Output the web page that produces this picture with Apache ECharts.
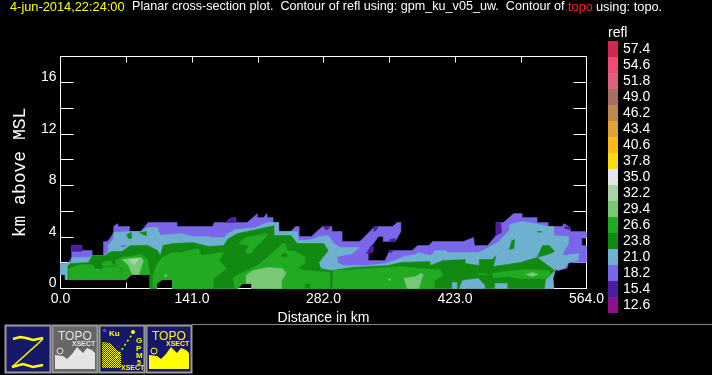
<!DOCTYPE html>
<html><head><meta charset="utf-8">
<style>html,body{margin:0;padding:0;background:#000}#c{width:712px;height:375px}</style>
<script src="https://cdn.jsdelivr.net/npm/echarts@6/dist/echarts.min.js"></script>
</head><body><div id="c"></div>
<script>
// Contour levels (dBZ) top to bottom, with the colour bar swatches
const levels = ['57.4','54.6','51.8','49.0','46.2','43.4','40.6','37.8','35.0','32.2','29.4','26.6','23.8','21.0','18.2','15.4','12.6'];
const levelColors = ['#d0284f','#f24a78','#dd6080','#a5705f','#bd8849','#e0a234','#fdb81c','#fbdc0c','#e6e6e6','#a8d4a8','#78c878','#22aa22','#128a12','#6eb0d0','#7b65e8','#4b1f9f','#8f108f'];

// Data lower edge shared by the outer bands: [km, km above MSL] flat pairs
const lowerEdge = [529,0, 205,0, 205,.39, 195,.39, 190,0, 120,0, 120,.70, 109,.70, 103,.39, 103,0, 96,0, 96,1.09, 76,1.09, 70,.70];
const leftEdge = [5,.70, 5,1.09, 0,1.09];

const top182 = [0,1.94,8,1.94,12,2.41,12,3.34,23,3.34,23,2.95,34,2.95,34,2.56,46,2.56,46,3.34,46,3.65,50,3.65,53,3.88,57,4.35,57,4.81,61,5.04,62,4.81,74,4.81,74,4.42,86,4.42,94,5.12,125,5.12,125,4.81,163,4.81,165,5.12,177,5.12,182,5.43,188,5.51,188,5.12,200,5.12,209,5.66,211,5.82,211,5.51,218,5.51,221,5.82,222,5.51,228,5.51,228,5.12,234,5.12,234,4.42,247,4.42,252,4.81,256,4.81,256,4.03,269,4.03,276,4.50,281,4.81,291,4.81,291,4.42,302,4.42,302,3.65,321,3.65,337,4.81,356,4.81,361,5.12,365,5.12,365,4.42,359,3.65,346,3.65,346,4.03,341,4.03,330,2.95,330,2.17,348,2.17,353,2.95,377,2.95,383,3.34,395,3.34,399,3.65,432,3.65,443,3.96,444,3.34,458,3.34,467,4.11,467,5.12,475,5.12,486,5.82,495,5.82,495,5.51,511,5.51,511,5.12,523,5.12,523,4.81,538,4.81,540,5.04,546,4.73,547,4.42,564,4.42,564,3.96,559,3.96,559,3.34,564,3.34,564,2.02,545,2.02,543,1.55,530,1.40,528,.78];
const top210 = [0,1.94,5,1.94,12,2.02,12,2.41,30,2.41,34,2.56,46,2.56,51,2.79,51,3.34,57,3.88,57,4.35,73,4.42,86,4.42,94,4.73,104,4.73,107,4.11,129,4.27,142,4.03,159,4.03,163,3.96,175,3.96,180,4.27,188,4.58,209,4.73,222,5.12,234,5.12,234,4.42,254,4.42,255,3.72,270,3.80,277,4.03,287,4.11,293,3.49,300,3.18,320,3.18,313,2.72,297,2.48,297,2.02,303,1.78,330,1.78,348,1.94,361,2.25,368,2.48,381,2.64,383,2.79,397,2.56,402,2.95,413,2.95,415,2.79,448,2.79,459,3.18,470,3.65,481,4.50,482,4.97,495,5.20,509,5.04,523,4.81,529,4.81,529,4.11,545,4.03,545,3.49,539,2.79,539,2.56,556,2.72,555,2.17,545,2.02,541,1.63,534,1.40,531,1.55,528,.78];
const top238 = [8,.70,8,1.78,11,1.94,30,2.02,34,2.56,48,2.56,54,2.87,66,2.87,75,3.34,94,3.34,104,2.95,107,2.56,110,3.34,121,3.49,142,3.57,159,3.26,175,3.34,180,3.88,190,4.27,200,4.42,225,4.81,229,4.89,229,4.11,247,4.11,254,3.49,282,3.49,287,2.95,277,2.02,279,1.55,290,1.40,313,1.63,351,1.78,365,2.02,396,2.10,397,1.78,410,2.17,434,2.25,434,1.94,449,1.78,449,2.25,463,2.25,467,2.56,464,1.71,493,2.02,511,2.41,530,1.40,520,.70,519,0];

const band182 = [top182.concat(lowerEdge, leftEdge)];
const band210 = [top210.concat(lowerEdge, leftEdge)];
const band238 = [
  top238.concat(lowerEdge.slice(2)),
  [71,4.19,76,4.35,76,3.88,73,3.88],
  [85,4.35,92,4.42,92,4.11,88,4.19],
  [484,3.72,487,3.80,486,3.10,481,3.03],
  [511,4.42,516,4.42,514,4.35],
  [517,3.34,524,3.34,530,2.87,522,2.64,511,2.41,515,3.03]
];
const band154 = [
  [12,3.34,23,3.34,23,2.87,12,2.87],
  [177,5.12,182,5.43,188,5.51,188,5.12],
  [282,4.81,289,4.81,287,4.58,284,4.58],
  [336,4.42,336,4.81,341,4.81,338,4.50],
  [328,2.72,333,3.34,336,3.26,335,2.79,330,2.72],
  [353,3.80,359,3.88,359,3.65,353,3.65],
  [353,2.95,357,2.95,355,2.79,353,2.79],
  [467,5.12,472,5.12,473,4.35,467,4.11],
  [540,4.81,547,4.73,547,4.58,541,4.66]
];
const pockets210 = [
  [420,0,420,.47,425,.47,425,0],
  [428,0,431,.62,448,.78,455,.23,455,0],
  [466,0,466,.39,479,.39,479,0],
  [21,1.16,24,1.16,24,.70,21,.70],
  [35,1.47,41,1.47,41,1.16,35,1.16],
  [53,1.47,60,1.47,59,.70,55,.70]
];
const pockets182 = [[65,3.34,70,3.34,70,3.26,65,3.26]];
const band266 = [
  [9,.70,9,1.55,21,1.86,34,1.86,39,1.40,48,1.63,64,1.71,66,.70],
  [45,2.02,54,2.17,57,1.78,45,1.71],
  [59,2.17,66,2.41,86,2.64,93,2.33,96,1.09,76,1.09,70,.70,66,.70,66,1.63,59,1.78],
  [99,0,99,1.01,104,1.94,109,2.41,120,2.79,129,2.79,148,3.10,151,2.56,175,2.79,170,2.17,178,1.55,164,.78,164,0,120,0,120,.70,109,.70,103,.39,103,0],
  [191,3.49,198,3.96,222,4.27,220,3.96,211,3.34,204,2.72,198,2.79,202,3.34],
  [205,0,205,.39,195,.39,190,0,187,0,185,.85,195,1.24,211,1.78,228,2.79,238,3.49,241,3.49,243,2.95,252,2.87,262,2.48,262,1.94,254,1.55,263,1.40,289,1.24,289,0,268,0,268,.39,262,.39,262,0],
  [292,0,292,1.40,313,1.47,351,1.63,365,1.71,386,1.55,407,1.47,410,1.01,401,.62,401,0],
  [463,1.16,475,1.32,501,1.47,524,1.40,525,1.01,520,.78,493,.78,480,.93,464,.85],
  [447,1.16,457,1.16,457,1.09,447,1.09]
];
const pockets238 = [[238,2.72,243,2.72,243,2.48,237,2.48]];
const band294 = [
  [66,2.25,86,2.41,89,2.17,84,1.09,77,1.09,73,1.78],
  [112,1.09,114,1.09,114,.93,112,.93],
  [199,1.01,206,1.40,223,1.63,238,1.55,242,1.16,237,.62,237,0,205,0,205,.39,199,.39],
  [368,.78,381,.93,386,1.16,389,1.09,384,0,372,0],
  [351,.70,354,.78,354,.62],
  [499,1.09,506,1.24,512,1.09,506,.93]
];
const band322 = [[73,2.25,84,2.33,79,1.78,75,2.10]];

const xTicks = 70.5, xLabelEvery = 141, yTicks = 2, yLabelEvery = 4;
const levelIdx = l => levels.indexOf(l);
const layers = [
  ['18.2', band182], ['21.0', band210], ['23.8', band238], ['15.4', band154],
  ['21.0', pockets210], ['18.2', pockets182], ['26.6', band266], ['23.8', pockets238],
  ['29.4', band294], ['32.2', band322]
];

function polySeries(level, polys){
  const color = levelColors[levelIdx(level)];
  return {
    type:'custom', name:level, xAxisIndex:0, yAxisIndex:0, silent:true, animation:false,
    data: polys.map((_,i)=>[i]),
    renderItem(params, api){
      const f = polys[params.dataIndex], pts = [];
      for(let i=0;i<f.length;i+=2) pts.push(api.coord([f[i],f[i+1]]));
      return {type:'polygon', shape:{points:pts}, style:{fill:color, stroke:color, lineWidth:0.5}};
    }
  };
}

const sans = '"Liberation Sans", Arial, sans-serif';
const Y='#ffff00', NAVY='#181868', GREY='#666666', EDGE='#9a9a9a';

function txt(x,y,t,fill,size,extra){
  return {type:'text', x, y, silent:true, z:20, style:Object.assign({text:t, fill, font:size+'px '+sans, textVerticalAlign:'middle', textBaseline:'middle'},extra||{})};
}
function frame(x,bg){ return {type:'rect', silent:true, z:10, shape:{x:x+0.5,y:325.5,width:45,height:47}, style:{fill:bg, stroke:EDGE, lineWidth:2}}; }
function poly(pts,fill){ return {type:'polygon', silent:true, z:11, shape:{points:pts}, style:{fill}}; }
function wave(pts,stroke,w){ return {type:'polyline', silent:true, z:12, shape:{points:pts}, style:{stroke,fill:null,lineWidth:w}}; }

function checker(){
  const c=document.createElement('canvas'); c.width=c.height=2;
  const g=c.getContext('2d'); g.fillStyle=NAVY; g.fillRect(0,0,2,2); g.fillStyle=Y; g.fillRect(0,0,1,1); g.fillRect(1,1,1,1);
  return {image:c, repeat:'repeat'};
}
function topo(x,bg,fg){
  const o=p=>[x+p[0],325+p[1]];
  return [
    frame(x,bg),
    poly([[3,44],[3,30],[11,31],[15,34],[20,29],[25,22],[31,28],[35,23],[40,25],[43,28],[43,44]].map(o),fg),
    txt(x+6,337,'TOPO',fg,14,{fontWeight:'normal'}),
    txt(x+20,344,'XSECT',fg,7,{font:'bold 7px '+sans}),
    {type:'circle',silent:true,z:13,shape:{cx:x+8,cy:351,r:3},style:{fill:bg,stroke:fg,lineWidth:1}}
  ];
}
const buttons = [].concat(
  [frame(5,NAVY),
   wave([[13,339],[20,337],[26,338],[33,340],[43,338]],Y,2.5),
   wave([[43,339],[32,349],[22,358],[12,367]],Y,1.5),
   wave([[12,367],[23,364],[33,367],[43,365]],Y,2.5)],
  topo(52,GREY,'#e4e4e4'),
  [frame(99,NAVY),
   poly([[102,368],[102,342],[110,343],[115,348],[121,353],[121,368]],checker()),
   txt(109,334,'Ku',Y,8,{font:'bold 8px '+sans}),
   txt(103,333,'°',Y,8),
   txt(121,368,'XSECT',Y,7,{font:'bold 7px '+sans}),
   txt(136,341,'G',Y,8,{font:'bold 8px '+sans}),
   txt(136,349,'P',Y,8,{font:'bold 8px '+sans}),
   txt(136,356,'M',Y,8,{font:'bold 8px '+sans}),
   txt(137,363,'5',Y,7,{font:'bold 7px '+sans}),
   {type:'line',silent:true,z:12,shape:{x1:116,y1:358,x2:133,y2:333},style:{stroke:Y,lineWidth:1.5,lineDash:[2,3]}},
   {type:'circle',silent:true,z:12,shape:{cx:133,cy:332,r:2},style:{fill:Y}}],
  topo(146,NAVY,Y)
);

const option = {
  backgroundColor:'#000',
  animation:false,
  grid:[
    {left:60.5, top:56.5, width:526, height:232, outerBoundsMode:'none', show:false},
    {left:608, top:41, width:10, height:272, outerBoundsMode:'none', show:false}
  ],
  xAxis:[
    {gridIndex:0, type:'value', min:0, max:564, interval:xTicks, position:'bottom', name:'Distance in km', nameLocation:'middle', nameGap:21,
     nameTextStyle:{color:'#fff',fontFamily:sans,fontSize:14},
     splitLine:{show:false}, axisLine:{show:true,onZero:false,lineStyle:{color:'#fff',width:1}},
     axisTick:{show:true,inside:true,length:6,lineStyle:{color:'#fff'}},
     axisLabel:{color:'#fff',fontFamily:sans,fontSize:14,margin:4,hideOverlap:false,showMinLabel:true,showMaxLabel:true,
       formatter:v=>(v % xLabelEvery === 0 ? v.toFixed(1) : '')}},
    {gridIndex:0, type:'value', min:0, max:564, interval:xTicks, position:'top',
     splitLine:{show:false}, axisLine:{show:true,onZero:false,lineStyle:{color:'#fff',width:1}},
     axisTick:{show:true,inside:true,length:6,lineStyle:{color:'#fff'}}, axisLabel:{show:false}},
    {gridIndex:1, type:'value', min:0, max:1, show:false}
  ],
  yAxis:[
    {gridIndex:0, type:'value', min:0, max:18, interval:yTicks, position:'left', name:'km above MSL', nameLocation:'middle', nameGap:31, nameRotate:90,
     nameTextStyle:{color:'#fff',fontFamily:'"Liberation Mono", monospace',fontSize:18},
     splitLine:{show:false}, axisLine:{show:true,onZero:false,lineStyle:{color:'#fff',width:1}},
     axisTick:{show:true,inside:true,length:13,lineStyle:{color:'#fff'}},
     axisLabel:{color:'#fff',fontFamily:sans,fontSize:14,margin:4,verticalAlign:'bottom',lineHeight:10,hideOverlap:false,showMinLabel:true,showMaxLabel:false,
       formatter:v=>(v % yLabelEvery === 0 ? String(v) : '')}},
    {gridIndex:0, type:'value', min:0, max:18, interval:yTicks, position:'right',
     splitLine:{show:false}, axisLine:{show:true,onZero:false,lineStyle:{color:'#fff',width:1}},
     axisTick:{show:true,inside:true,length:13,lineStyle:{color:'#fff'}}, axisLabel:{show:false}},
    {gridIndex:1, type:'category', data:levels, inverse:true, position:'right',
     axisLine:{show:false}, axisTick:{show:false},
     axisLabel:{color:'#fff',fontFamily:sans,fontSize:14,margin:5,interval:0,padding:[2,0,0,0]}}
  ],
  series: layers.map(l=>polySeries(l[0],l[1])).concat([{
    type:'bar', xAxisIndex:2, yAxisIndex:2, silent:true, barCategoryGap:0, barWidth:'100%',
    data: levels.map((_,i)=>({value:1,itemStyle:{color:levelColors[i]}}))
  }]),
  graphic:[
    txt(10,7,'4-jun-2014,22:24:00',Y,12.8),
    txt(132,7,'Planar cross-section plot.  Contour of refl using: gpm_ku_v05_uw.  Contour of','#fff',12.6),
    txt(568,7,'topo','#ff2020',12.8),
    txt(596,7,'using: topo.','#fff',12.8),
    txt(608,33,'refl','#fff',14),
    {type:'line',silent:true,shape:{x1:192,y1:324.5,x2:712,y2:324.5},style:{stroke:'#888',lineWidth:1}}
  ].concat(buttons)
};
echarts.init(document.getElementById('c'),null,{renderer:'canvas'}).setOption(option);
</script></body></html>
